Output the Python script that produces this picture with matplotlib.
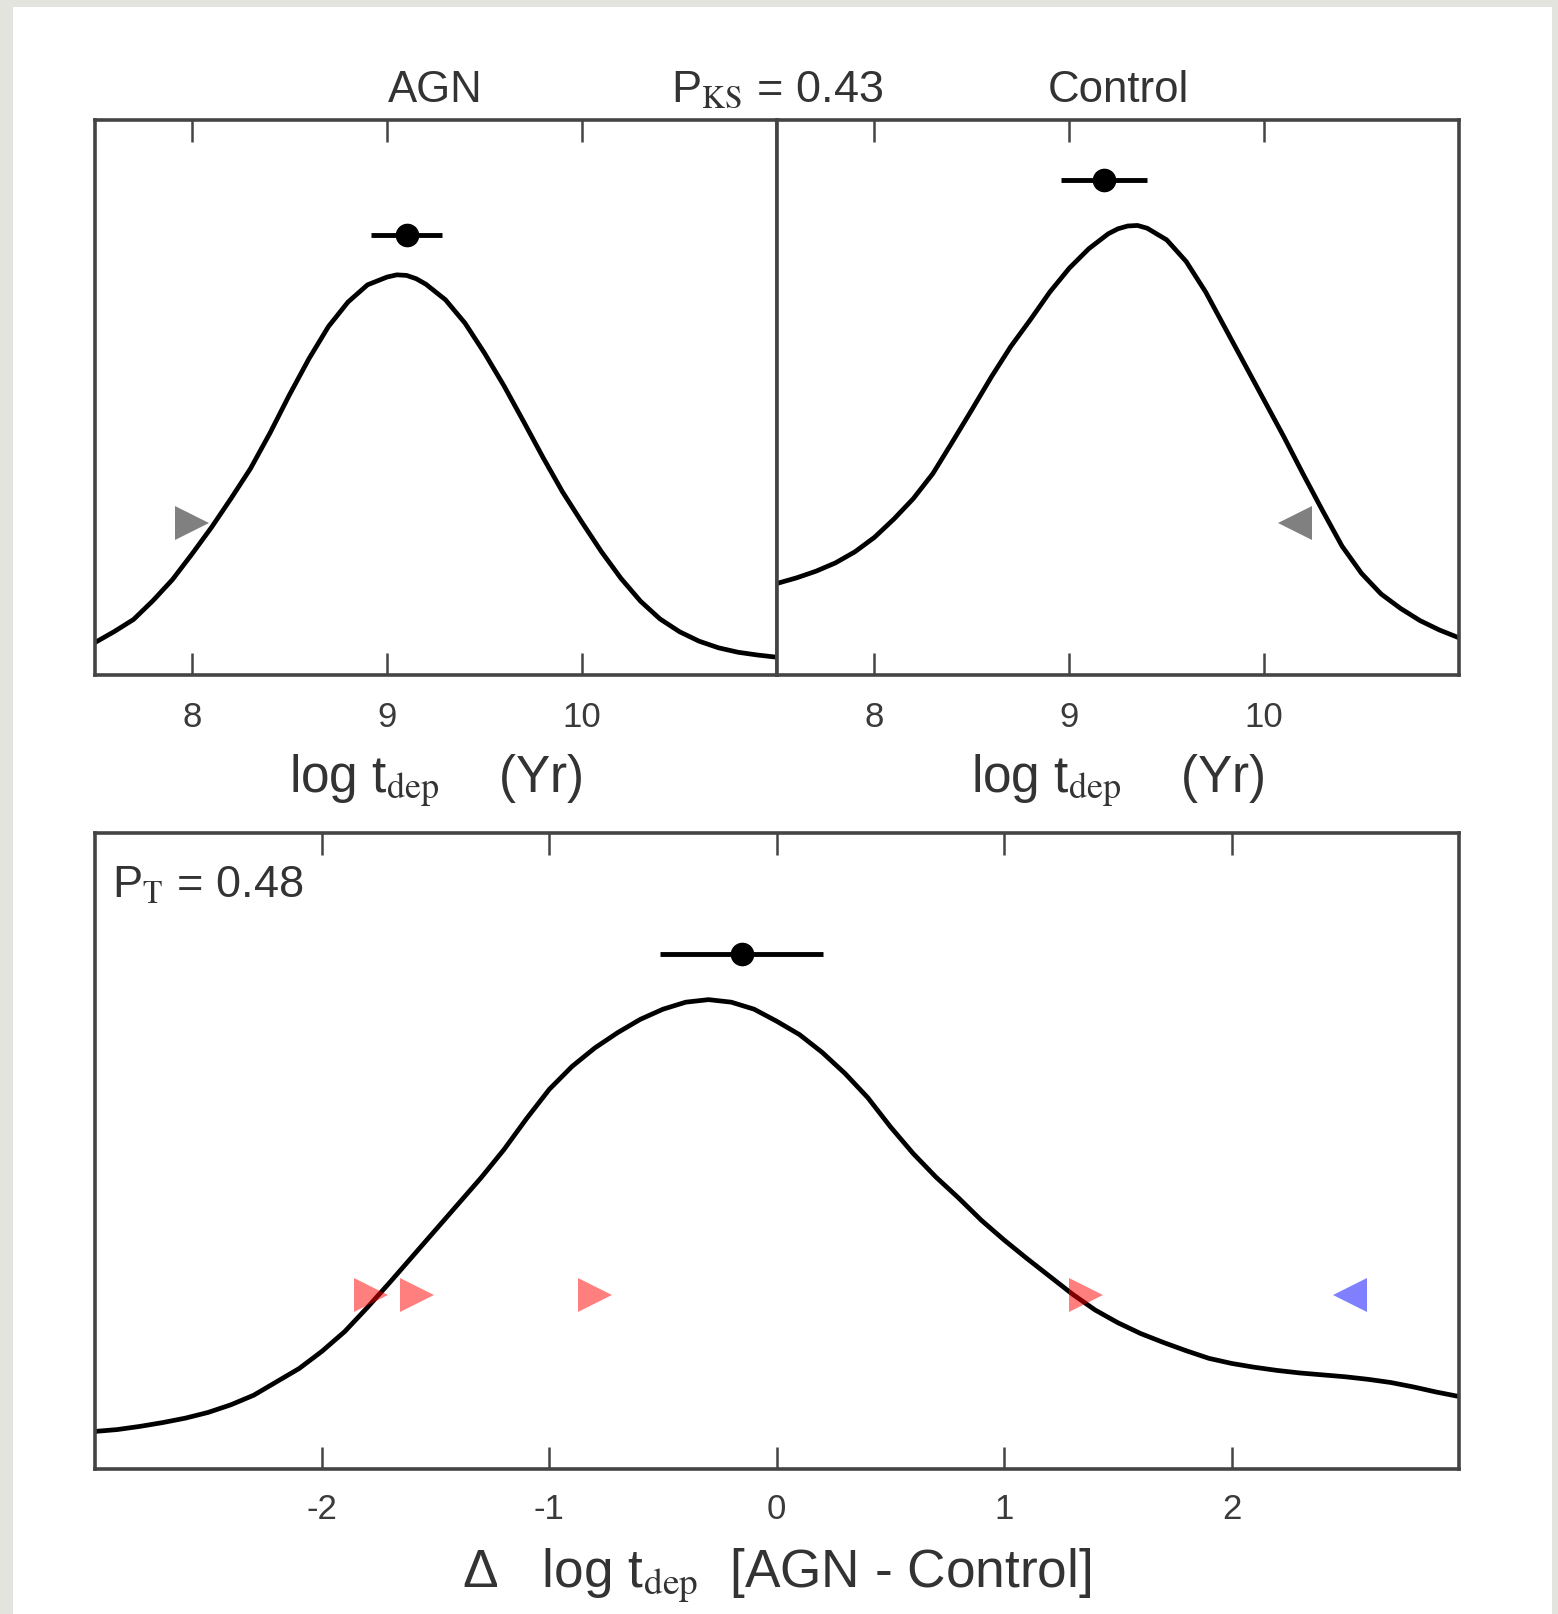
import numpy as np
import matplotlib
matplotlib.use("Agg")
import matplotlib.pyplot as plt
from matplotlib.patches import Rectangle

plt.rcParams['font.family'] = ['Liberation Sans', 'DejaVu Sans']
plt.rcParams['mathtext.fontset'] = 'stix'
plt.rcParams['axes.unicode_minus'] = False

# KDE curves (y in arbitrary density units)
agn_x = [7.5, 7.6, 7.7, 7.8, 7.9, 8.0, 8.1, 8.2, 8.3, 8.4, 8.5, 8.6, 8.7, 8.8,
         8.9, 9.0, 9.05, 9.1, 9.15, 9.2, 9.3, 9.4, 9.5, 9.6, 9.7, 9.8, 9.9,
         10.0, 10.1, 10.2, 10.3, 10.4, 10.5, 10.6, 10.7, 10.8, 10.9, 11.0]
agn_y = [0.058, 0.078, 0.100, 0.134, 0.172, 0.218, 0.266, 0.318, 0.372, 0.436,
         0.505, 0.570, 0.628, 0.672, 0.703, 0.717, 0.721, 0.720, 0.714, 0.704,
         0.676, 0.634, 0.580, 0.521, 0.457, 0.392, 0.330, 0.275, 0.222, 0.174,
         0.133, 0.101, 0.078, 0.061, 0.049, 0.041, 0.036, 0.032]

ctl_x = [7.5, 7.6, 7.7, 7.8, 7.9, 8.0, 8.1, 8.2, 8.3, 8.4, 8.5, 8.6, 8.7, 8.8,
         8.9, 9.0, 9.1, 9.2, 9.25, 9.3, 9.35, 9.4, 9.5, 9.6, 9.7, 9.8, 9.9,
         10.0, 10.1, 10.2, 10.3, 10.4, 10.5, 10.6, 10.7, 10.8, 10.9, 11.0]
ctl_y = [0.165, 0.175, 0.187, 0.202, 0.222, 0.248, 0.281, 0.318, 0.363, 0.420,
         0.478, 0.537, 0.592, 0.640, 0.690, 0.733, 0.768, 0.795, 0.804, 0.809,
         0.810, 0.805, 0.784, 0.745, 0.690, 0.625, 0.560, 0.495, 0.430, 0.362,
         0.296, 0.232, 0.183, 0.146, 0.120, 0.098, 0.081, 0.067]

diff_x = [-3.0, -2.9, -2.8, -2.7, -2.6, -2.5, -2.4, -2.3, -2.2, -2.1, -2.0,
          -1.9, -1.8, -1.7, -1.6, -1.5, -1.4, -1.3, -1.2, -1.1, -1.0,
          -0.9, -0.8, -0.7, -0.6, -0.5, -0.4, -0.3, -0.2, -0.1, 0.0,
          0.1, 0.2, 0.3, 0.4, 0.5, 0.6, 0.7, 0.8, 0.9, 1.0,
          1.1, 1.2, 1.3, 1.4, 1.5, 1.6, 1.7, 1.8, 1.9, 2.0,
          2.1, 2.2, 2.3, 2.4, 2.5, 2.6, 2.7, 2.8, 2.9, 3.0]
diff_y = [0.059, 0.062, 0.067, 0.073, 0.080, 0.089, 0.101, 0.116, 0.137, 0.158, 0.185,
          0.216, 0.254, 0.294, 0.335, 0.376, 0.417, 0.458, 0.502, 0.551, 0.597,
          0.633, 0.662, 0.686, 0.707, 0.723, 0.734, 0.738, 0.734, 0.723, 0.704,
          0.683, 0.655, 0.622, 0.584, 0.538, 0.496, 0.459, 0.426, 0.391, 0.360,
          0.331, 0.303, 0.275, 0.250, 0.230, 0.213, 0.199, 0.186, 0.174, 0.166,
          0.160, 0.155, 0.151, 0.148, 0.145, 0.141, 0.136, 0.129, 0.121, 0.114]

# medians with errors
agn_med, agn_err, agn_lev = 9.10, 0.18, 0.792
ctl_med, ctl_err, ctl_lev = 9.18, 0.22, 0.891
diff_med, diff_err, diff_lev = -0.155, 0.36, 0.810

# limits (arrows)
arrow_lev = 0.273
agn_lim = [8.0]
ctl_lim = [10.156]
diff_lim_agn = [-1.786, -1.58, -0.80, 1.358]
diff_lim_ctl = [2.52]

top_ticks = [8, 9, 10]
bot_ticks = [-2, -1, 0, 1, 2]

txt = '#333333'
spc = '#444444'

W, H = 1558, 1614
fig = plt.figure(figsize=(W / 100, H / 100), dpi=100)
fig.patch.set_facecolor('#e4e4df')
fig.add_artist(Rectangle((13 / W, 0), (1552 - 13) / W, (1614 - 7) / H,
                         transform=fig.transFigure, facecolor='white',
                         edgecolor='none', zorder=0))

ax1 = fig.add_axes([94.5 / W, 1 - 675 / H, 682.5 / W, 555 / H])
ax2 = fig.add_axes([777 / W, 1 - 675 / H, 682 / W, 555 / H])
ax3 = fig.add_axes([94.5 / W, 1 - 1469 / H, 1364.5 / W, 636 / H])


def style(ax, ticks, xlim, pad):
    ax.set_xlim(*xlim)
    ax.set_ylim(0, 1)
    ax.set_xticks(ticks)
    ax.set_yticks([])
    ax.tick_params(axis='x', direction='in', top=True, bottom=True, length=16,
                   width=1.8, color=spc, labelsize=25, labelcolor='#3a3a3a', pad=pad)
    for s in ax.spines.values():
        s.set_linewidth(2.6)
        s.set_color(spc)


lab_top = 'log t$_{\\mathrm{dep}}$    (Yr)'

for ax, x, y, med, err, lev, lim, mk, ttl in [
        (ax1, agn_x, agn_y, agn_med, agn_err, agn_lev, agn_lim, '>', 'AGN'),
        (ax2, ctl_x, ctl_y, ctl_med, ctl_err, ctl_lev, ctl_lim, '<', 'Control')]:
    ax.plot(x, y, color='k', lw=3.4, solid_joinstyle='round')
    ax.errorbar([med], [lev], xerr=[err], fmt='o', color='k', ms=16,
                elinewidth=3.5, capsize=0)
    ax.plot(lim, [arrow_lev] * len(lim), ls='none', marker=mk, ms=25,
            color='gray', mew=0)
    style(ax, top_ticks, (7.5, 11.0), 19)
    ax.set_xlabel(lab_top, fontsize=37, color=txt, labelpad=13)
    ax.set_title(ttl, fontsize=31.5, color=txt, pad=13)

fig.text(777 / W, 1 - 102 / H, 'P$_{\\mathrm{KS}}$ = 0.43', ha='center',
         va='baseline', fontsize=32.5, color=txt)

ax3.plot(diff_x, diff_y, color='k', lw=3.4, solid_joinstyle='round')
ax3.errorbar([diff_med], [diff_lev], xerr=[diff_err], fmt='o', color='k',
             ms=16, elinewidth=3.5, capsize=0)
ax3.plot(diff_lim_agn, [arrow_lev] * len(diff_lim_agn), ls='none', marker='>',
         ms=25, color='red', alpha=0.5, mew=0)
ax3.plot(diff_lim_ctl, [arrow_lev] * len(diff_lim_ctl), ls='none', marker='<',
         ms=25, color='blue', alpha=0.5, mew=0)
style(ax3, bot_ticks, (-3, 3), 17)
ax3.set_xlabel('Δ   log t$_{\\mathrm{dep}}$  [AGN - Control]', fontsize=38.3,
               color=txt, labelpad=15)
ax3.text(0.013, 0.90, 'P$_{\\mathrm{T}}$ = 0.48', transform=ax3.transAxes,
         fontsize=32.5, color=txt, va='baseline')

fig.savefig('out.png', dpi=100, facecolor=fig.get_facecolor())
